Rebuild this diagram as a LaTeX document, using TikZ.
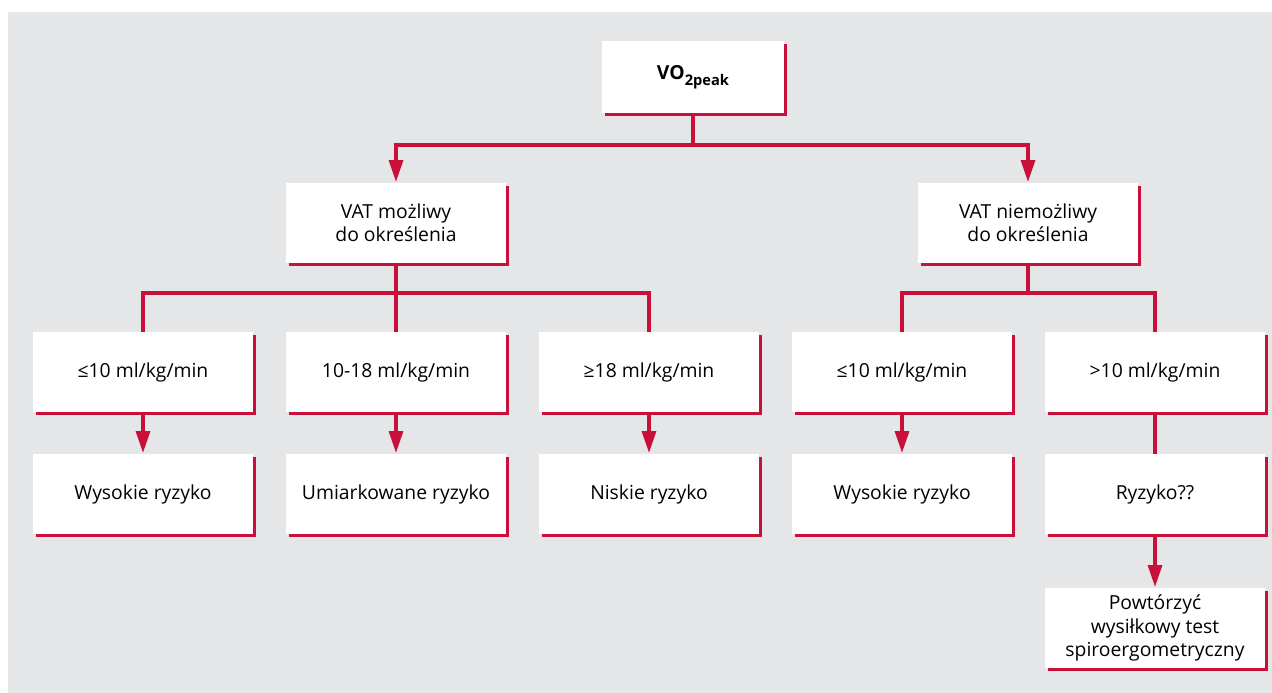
\documentclass[tikz,border=0pt]{standalone}
\usepackage{fontspec}
\setmainfont{Open Sans}
\usetikzlibrary{arrows.meta,shadows}
\definecolor{flowred}{RGB}{200,16,58}
\definecolor{flowgray}{RGB}{229,230,232}

\begin{document}
\begin{tikzpicture}[x=0.75pt,y=-0.75pt,
    box/.style={fill=white, minimum width=165pt, minimum height=60pt,
        inner sep=0pt, align=center, font=\fontsize{14.5}{17.5}\selectfont,
        general shadow={fill=flowred, shadow xshift=2pt, shadow yshift=-2pt}},
    link/.style={flowred, line width=3.6pt},
    arrowlink/.style={link, -{Triangle[width=10pt,length=17pt]}}]

    % Background panel
    \useasboundingbox (0,0) rectangle (1272,693);
    \fill[flowgray] (8,12) rectangle (1272,693);

    % Top
    \node[box, minimum width=136.5pt, minimum height=54pt] (vo) at (693,77)
        {\textbf{VO\raisebox{-4.5pt}{\fontsize{11}{13}\selectfont 2peak}}};

    % VAT
    \node[box] (vatyes) at (396,223) {VAT możliwy\\do określenia};
    \node[box] (vatno) at (1028,223) {VAT niemożliwy\\do określenia};

    % Thresholds
    \node[box] (yes1) at (143,372) {≤10 ml/kg/min};
    \node[box] (yes2) at (396,372) {10-18 ml/kg/min};
    \node[box] (yes3) at (649,372) {≥18 ml/kg/min};
    \node[box] (no1) at (902,372) {≤10 ml/kg/min};
    \node[box] (no2) at (1155,372) {>10 ml/kg/min};

    % Risk
    \node[box] (risk1) at (143,494) {Wysokie ryzyko};
    \node[box] (risk2) at (396,494) {Umiarkowane ryzyko};
    \node[box] (risk3) at (649,494) {Niskie ryzyko};
    \node[box] (risk4) at (902,494) {Wysokie ryzyko};
    \node[box] (risk5) at (1155,494) {Ryzyko??};
    \node[box] (repeat) at (1155,628) {Powtórzyć\\wysiłkowy test\\spiroergometryczny};

    % Branch points
    \coordinate (top) at (693,145);
    \coordinate (left) at (396,293);
    \coordinate (right) at (1028,293);

    \draw[link] (vo) -- (top);
    \draw[arrowlink] (top) -| (vatyes);
    \draw[arrowlink] (top) -| (vatno);

    \draw[link] (vatyes) -- (left);
    \draw[link] (left) -| (yes1);
    \draw[link] (left) -- (yes2);
    \draw[link] (left) -| (yes3);

    \draw[link] (vatno) -- (right);
    \draw[link] (right) -| (no1);
    \draw[link] (right) -| (no2);

    \draw[arrowlink] (yes1) -- (risk1);
    \draw[arrowlink] (yes2) -- (risk2);
    \draw[arrowlink] (yes3) -- (risk3);
    \draw[arrowlink] (no1) -- (risk4);
    \draw[link] (no2) -- (risk5);
    \draw[arrowlink] (risk5) -- (repeat);
\end{tikzpicture}
\end{document}
